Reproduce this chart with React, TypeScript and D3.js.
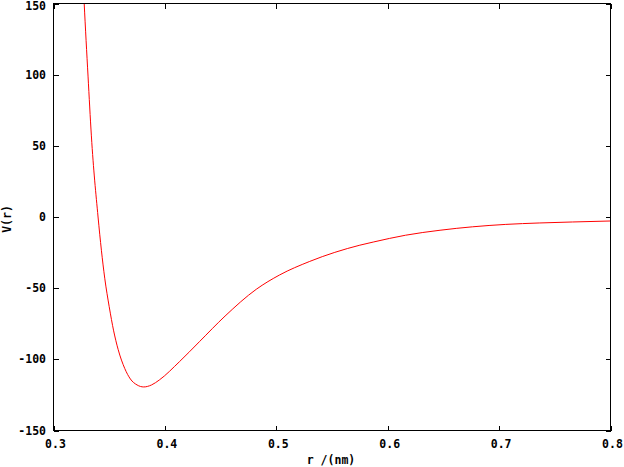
import React from "react";
import * as d3 from "d3";

const rValues = [0.325, 0.3275, 0.331, 0.334, 0.34, 0.346, 0.35, 0.354, 0.358, 0.364, 0.369, 0.375, 0.381, 0.388, 0.395, 0.413, 0.431, 0.454, 0.482, 0.503, 0.53, 0.575, 0.587, 0.616, 0.647, 0.676, 0.706, 0.736, 0.766, 0.8];
const vValues = [195, 151, 99, 57, 0, -43, -63, -80, -93, -106.5, -113.8, -118, -119.4, -118, -114.5, -101.7, -87.6, -69.6, -50.8, -40.7, -31.2, -19.8, -17.6, -12.8, -9.3, -6.9, -5.2, -4.2, -3.5, -2.8];
const xTicks = [0.3, 0.4, 0.5, 0.6, 0.7, 0.8];
const yTicks = [-150, -100, -50, 0, 50, 100, 150];
const xLabel = "r /(nm)";
const yLabel = "V(r)";

export default function App() {
  const W = 624, H = 467;
  const L = 53.5, R = 610.5, T = 3.5, B = 430.5;
  const x = d3.scaleLinear().domain([0.3, 0.8]).range([L, R]);
  const y = d3.scaleLinear().domain([-150, 150]).range([B, T]);
  const pts = rValues.map((r, i) => [r, vValues[i]] as [number, number]);
  const line = d3.line<[number, number]>().x(d => x(d[0])).y(d => y(d[1])).curve(d3.curveMonotoneX);
  const font = "'DejaVu Sans Mono', monospace";
  const tl = 5;
  return (
    <svg width={W} height={H} style={{ position: "absolute", left: 0, top: 0, background: "#fff" }}>
      <defs>
        <clipPath id="plot"><rect x={L} y={T} width={R - L} height={B - T} /></clipPath>
      </defs>
      <rect x={0} y={0} width={W} height={H} fill="#fff" />
      <g shapeRendering="crispEdges" stroke="#000" strokeWidth={1}>
        {xTicks.map(t => (
          <g key={"x" + t}>
            <line x1={Math.round(x(t)) + 0.5} x2={Math.round(x(t)) + 0.5} y1={B} y2={B - tl} />
            <line x1={Math.round(x(t)) + 0.5} x2={Math.round(x(t)) + 0.5} y1={T} y2={T + tl} />
          </g>
        ))}
        {yTicks.map(t => (
          <g key={"y" + t}>
            <line x1={L} x2={L + tl} y1={Math.round(y(t)) + 0.5} y2={Math.round(y(t)) + 0.5} />
            <line x1={R} x2={R - tl} y1={Math.round(y(t)) + 0.5} y2={Math.round(y(t)) + 0.5} />
          </g>
        ))}
      </g>
      <path d={line(pts) || ""} fill="none" stroke="#ff0000" strokeWidth={1} clipPath="url(#plot)" />
      <rect x={L} y={T} width={R - L} height={B - T} fill="none" stroke="#000" strokeWidth={1} shapeRendering="crispEdges" />
      <g fontFamily={font} fontWeight="bold" fontSize={11.5} fill="#000">
        {yTicks.map(t => (
          <text key={"yl" + t} x={46} y={Math.max(y(t), 6)} textAnchor="end" dominantBaseline="central">{t}</text>
        ))}
        {xTicks.map(t => (
          <text key={"xl" + t} x={x(t) + 2} y={444} textAnchor="middle" dominantBaseline="central">{t.toFixed(1)}</text>
        ))}
        <text x={331} y={460} textAnchor="middle" dominantBaseline="central">{xLabel}</text>
        <text transform={`translate(7,219) rotate(-90)`} textAnchor="middle" dominantBaseline="central">{yLabel}</text>
      </g>
    </svg>
  );
}
